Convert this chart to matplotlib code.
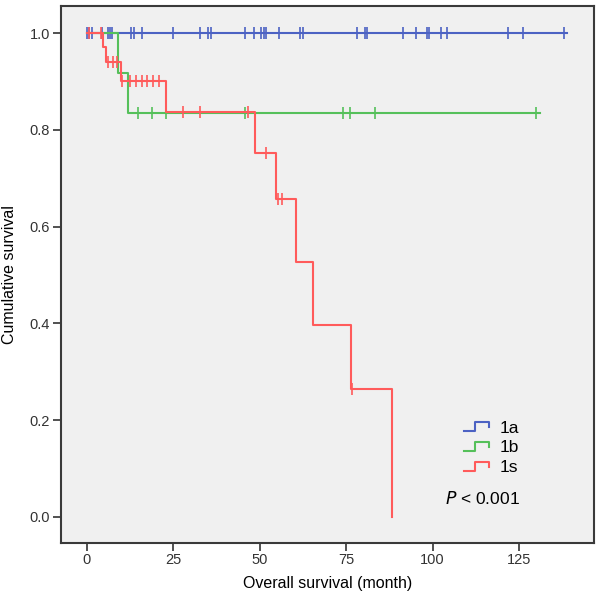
import numpy as np
import matplotlib.pyplot as plt
from matplotlib.lines import Line2D
from matplotlib.legend_handler import HandlerBase

plt.rcParams['font.family'] = ['Liberation Sans', 'DejaVu Sans']

# Kaplan-Meier step data (event times in months, survival after each step)
t_1a = [0]
s_1a = [1.0]
end_1a = 138.8
cens_1a = [0.1, 0.7, 1.4, 4.3, 6.0, 6.7, 7.2, 12.7, 13.6, 15.9, 24.8, 32.7, 35.1,
           35.8, 45.8, 48.3, 50.3, 51.2, 51.8, 55.6, 61.6, 62.4, 78.2, 80.4, 81.1,
           91.3, 95.2, 98.3, 99.0, 102.3, 104.1, 121.9, 126.1, 138.0]

t_1b = [0, 9.1, 12.0]
s_1b = [1.0, 0.918, 0.834]
end_1b = 131.0
cens_1b = [14.8, 18.7, 22.9, 45.7, 74.2, 76.1, 83.3, 129.9]

t_1s = [0, 4.7, 5.5, 9.8, 22.9, 48.6, 54.6, 60.5, 65.5, 76.4, 88.4]
s_1s = [1.0, 0.972, 0.940, 0.901, 0.836, 0.753, 0.658, 0.527, 0.397, 0.264, 0.0]
end_1s = 88.4
cens_1s = [0.7, 4.0, 6.0, 7.6, 8.6, 10.2, 12.4, 14.2, 15.8, 17.5, 19.2, 20.9,
           27.8, 32.7, 46.7, 51.7, 55.4, 56.3, 76.6]

groups = ['1a', '1b', '1s']
colors = ['#4C62C3', '#55C05A', '#FF5B5B']


def surv_at(times, surv, x):
    idx = np.searchsorted(times, x, side='right') - 1
    return np.asarray(surv)[idx]


class StepHandler(HandlerBase):
    # SPSS style step glyph in the legend
    def create_artists(self, legend, orig_handle, xdescent, ydescent,
                       width, height, fontsize, trans):
        w, h = width, height
        xs = [0, 0.42 * w, 0.42 * w, w, w]
        ys = [0.1 * h, 0.1 * h, 0.85 * h, 0.85 * h, 0.45 * h]
        ln = Line2D(np.array(xs) - xdescent, np.array(ys) - ydescent,
                    color=orig_handle.get_color(), lw=1.5)
        ln.set_transform(trans)
        return [ln]


fig = plt.figure(figsize=(6.0, 6.03), dpi=100)
ax = fig.add_axes([0.1017, 0.0995, 0.8883, 0.8905])
ax.set_facecolor('#F0F0F0')

data = [(t_1a, s_1a, end_1a, cens_1a),
        (t_1b, s_1b, end_1b, cens_1b),
        (t_1s, s_1s, end_1s, cens_1s)]

handles = []
for (t, s, end, cens), col, name in zip(data, colors, groups):
    xs = list(t)
    ys = list(s)
    if end > xs[-1]:
        xs.append(end)
        ys.append(ys[-1])
    ln, = ax.plot(xs, ys, drawstyle='steps-post', color=col, lw=1.5, label=name)
    cy = surv_at(t, s, np.array(cens))
    ax.plot(cens, cy, ls='none', marker='|', ms=8, mew=1.2, color=col)
    handles.append(ln)

ax.set_xlim(-7.5, 146.7)
ax.set_ylim(-0.054, 1.056)
ax.set_xticks([0, 25, 50, 75, 100, 125])
ax.set_yticks([0.0, 0.2, 0.4, 0.6, 0.8, 1.0])
ax.set_yticklabels(['0.0', '0.2', '0.4', '0.6', '0.8', '1.0'])
ax.tick_params(axis='both', direction='out', length=6, width=1.2,
               color='#333333', labelcolor='#333333', labelsize=10.5)
ax.tick_params(axis='x', pad=1.5)
ax.tick_params(axis='y', pad=2)
for sp in ax.spines.values():
    sp.set_color('#3A3A3A')
    sp.set_linewidth(1.5)

ax.set_xlabel('Overall survival (month)', fontsize=11.5, labelpad=6)
ax.set_ylabel('Cumulative survival', fontsize=11.5, labelpad=9)

leg = ax.legend(handles=handles, labels=groups, loc='upper left',
                bbox_to_anchor=(0.727, 0.2575), frameon=False, fontsize=12.5,
                handler_map={Line2D: StepHandler()}, handlelength=1.45,
                handletextpad=0.6, labelspacing=0.27)

ax.text(0.72, 0.082, r'$P$ < 0.001', transform=ax.transAxes, fontsize=12.5,
        ha='left', va='center')

fig.savefig('out.png', dpi=100)
